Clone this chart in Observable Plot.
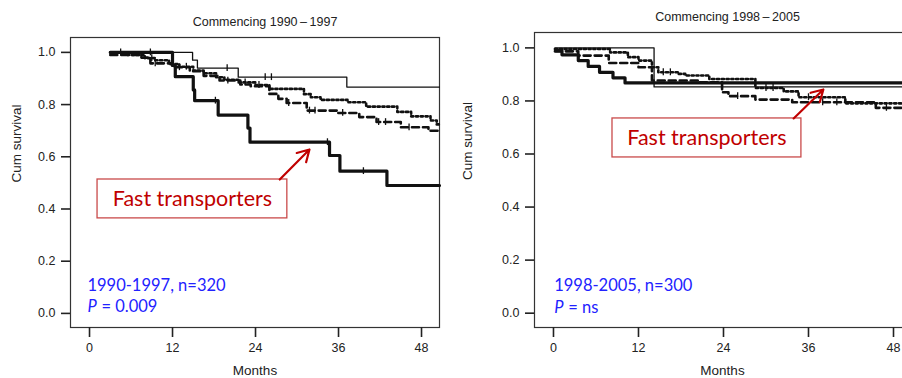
<!DOCTYPE html>
<html>
<head>
<meta charset="utf-8">
<script src="https://cdn.jsdelivr.net/npm/d3@7"></script>
<script src="https://cdn.jsdelivr.net/npm/@observablehq/plot@0.6"></script>
<style>
  html, body { margin: 0; padding: 0; background: white; }
  #wrap { position: relative; width: 902px; height: 378px; overflow: hidden; background: white; }
  #wrap svg { position: absolute; top: 0; }
</style>
</head>
<body>
<div id="wrap"></div>
<script>
// ---------- data ----------
const xTicks = [0, 12, 24, 36, 48];
const yTicks = [0, 0.2, 0.4, 0.6, 0.8, 1.0];
const xLabel = "Months";
const yLabel = "Cum survival";

// Panel A: Commencing 1990-1997
const titleA = "Commencing 1990\u2009\u2013\u20091997";
const thinA_t = [3.0, 14.9, 15.6, 21.5, 37.2, 50.6];
const thinA_v = [1.0, 0.97, 0.94, 0.905, 0.867, 0.867];
const thickA_t = [3.0, 12.0, 12.4, 15.0, 15.2, 18.6, 22.9, 23.2, 34.7, 36.2, 43.0, 50.6];
const thickA_v = [1.0, 0.95, 0.907, 0.856, 0.815, 0.76, 0.71, 0.656, 0.605, 0.545, 0.49, 0.49];
const dotA_t = [3.0, 5.5, 8.0, 9.5, 11.5, 13.0, 15.0, 16.5, 18.3, 19.5, 21.5, 24.0, 26.0, 31.0, 32.0, 33.4, 37.3, 40.0, 44.5, 46.5, 49.3, 50.2, 50.6];
const dotA_v = [1.0, 0.99, 0.978, 0.97, 0.955, 0.945, 0.93, 0.92, 0.905, 0.895, 0.885, 0.875, 0.86, 0.84, 0.828, 0.818, 0.809, 0.792, 0.772, 0.755, 0.739, 0.724, 0.724];
const dashA_t = [3.0, 7.5, 8.8, 12.0, 14.5, 16.5, 18.8, 21.8, 23.3, 26.0, 27.3, 28.5, 31.4, 35.8, 39.0, 41.5, 45.0, 49.0, 50.6];
const dashA_v = [0.99, 0.98, 0.958, 0.943, 0.928, 0.91, 0.892, 0.877, 0.87, 0.841, 0.822, 0.806, 0.777, 0.768, 0.752, 0.733, 0.713, 0.70, 0.70];
const censThinA = [19.9, 25.4, 26.3];
const censThickA = [8.8, 18.2, 34.4, 39.6];
const censDotA = [4.5, 9.0, 14.0, 22.5, 24.5];
const censDashA = [9.5, 13.0, 20.0, 28.8, 31.8, 32.6, 36.6, 41.8, 42.8, 46.2];
const noteA1 = "1990-1997, n=320";
const noteA2 = "= 0.009";

// Panel B: Commencing 1998-2005
const titleB = "Commencing 1998\u2009\u2013\u20092005";
const thinB_t = [0.2, 14.2, 50.4];
const thinB_v = [1.0, 0.853, 0.853];
const thickB_t = [0.3, 1.2, 3.5, 4.9, 6.5, 8.4, 10.1, 50.4];
const thickB_v = [0.99, 0.974, 0.952, 0.93, 0.908, 0.887, 0.868, 0.868];
const dotB_t = [0.2, 8.0, 10.5, 12.0, 13.9, 14.8, 17.6, 18.6, 22.0, 28.5, 32.5, 34.6, 41.2, 50.4];
const dotB_v = [0.996, 0.983, 0.965, 0.952, 0.927, 0.908, 0.902, 0.896, 0.883, 0.849, 0.836, 0.814, 0.791, 0.791];
const dashB_t = [0.2, 3.5, 7.8, 12.0, 13.9, 20.5, 23.8, 24.7, 28.5, 33.7, 45.5, 50.4];
const dashB_v = [0.987, 0.971, 0.943, 0.927, 0.877, 0.87, 0.833, 0.818, 0.805, 0.795, 0.774, 0.774];
const censDotB = [15.5, 16.5, 30.0, 31.0, 36.0];
const censDashB = [26.0, 38.0, 40.0, 47.0];
const noteB1 = "1998-2005, n=300";
const noteB2 = "= ns";

const boxLabel = "Fast transporters";

// ---------- helpers ----------
const series = (t, v) => t.map((x, i) => ({t: x, v: v[i]}));
function valueAt(t, v, c) {
  let k = 0;
  for (let i = 0; i < t.length; i++) if (t[i] <= c) k = i;
  return v[k];
}
const cens = (t, v, cs) => cs.map(c => ({t: c, v: valueAt(t, v, c)}));

const INK = "#111";
function curveMarks(t, v, cs, style) {
  const marks = [Plot.line(series(t, v), {x: "t", y: "v", curve: "step-after", stroke: INK, ...style})];
  if (cs && cs.length) {
    marks.push(Plot.ruleX(cens(t, v, cs), {x: "t", y1: d => d.v - 0.013, y2: d => d.v + 0.013, stroke: INK, strokeWidth: 1.3}));
  }
  return marks;
}

function panel(cfg) {
  return Plot.plot({
    width: cfg.width, height: 378,
    marginLeft: cfg.ml, marginRight: cfg.mr, marginTop: cfg.mt, marginBottom: 51,
    style: {fontFamily: "'Liberation Sans', Arial, sans-serif", fontSize: "12.5px", color: "#222", background: "transparent", overflow: "visible"},
    x: {domain: cfg.xd},
    y: {domain: cfg.yd},
    marks: [
      Plot.frame({stroke: "#333", strokeWidth: 1.2}),
      Plot.axisX({ticks: xTicks, tickSize: 10, tickPadding: 6, strokeWidth: 1.6, label: null, fontSize: 12.5}),
      Plot.axisY({ticks: yTicks, tickFormat: d3.format(".1f"), tickSize: 9, tickPadding: 6, strokeWidth: 1.6, label: null, fontSize: 12.5}),
      Plot.text([xLabel], {frameAnchor: "bottom", dy: 43, lineAnchor: "middle", fontSize: 13.5, fill: "#222"}),
      Plot.text([yLabel], {frameAnchor: "left", dx: -cfg.ml + 16, rotate: -90, lineAnchor: "middle", fontSize: 13.5, fill: "#222"}),
      Plot.text([cfg.title], {frameAnchor: "top", dy: cfg.titleDy, dx: cfg.titleDx, lineAnchor: "middle", fontSize: 12.5, fill: "#222"}),
      ...curveMarks(cfg.thin_t, cfg.thin_v, cfg.censThin, {strokeWidth: 1.3}),
      ...curveMarks(cfg.dot_t, cfg.dot_v, cfg.censDot, {strokeWidth: 2.6, strokeDasharray: "2.2,2.6"}),
      ...curveMarks(cfg.dash_t, cfg.dash_v, cfg.censDash, {strokeWidth: 2.6, strokeDasharray: "7,4"}),
      ...curveMarks(cfg.thick_t, cfg.thick_v, cfg.censThick, {strokeWidth: 3.2}),
      Plot.rect([cfg.box], {x1: "x1", x2: "x2", y1: "y1", y2: "y2", fill: "white", stroke: "#c94a4a", strokeWidth: 1.3}),
      Plot.text([cfg.box], {x: d => (d.x1 + d.x2) / 2, y: d => (d.y1 + d.y2) / 2, text: () => boxLabel, fontFamily: "Lato, 'Open Sans', sans-serif", fontSize: 21.5, fill: "#c00000"}),
      Plot.arrow([cfg.arrow], {x1: "x1", y1: "y1", x2: "x2", y2: "y2", stroke: "#c00000", strokeWidth: 2.2, headLength: 9}),
      Plot.text([cfg.note1], {x: cfg.noteX, y: cfg.noteY1, textAnchor: "start", fontFamily: "Lato, 'Open Sans', sans-serif", fontSize: 16.5, fill: "#2222ff"}),
      Plot.text(["P"], {x: cfg.noteX, y: cfg.noteY2, textAnchor: "start", fontFamily: "Lato, 'Open Sans', sans-serif", fontStyle: "italic", fontSize: 16.5, fill: "#2222ff"}),
      Plot.text([cfg.note2], {x: cfg.noteX, y: cfg.noteY2, dx: 14, textAnchor: "start", fontFamily: "Lato, 'Open Sans', sans-serif", fontSize: 16.5, fill: "#2222ff"})
    ]
  });
}

const svgA = panel({
  width: 451, ml: 70, mr: 12, mt: 37,
  xd: [-2.75, 50.6], yd: [-0.054, 1.057],
  title: titleA, titleDy: -16, titleDx: 10,
  thin_t: thinA_t, thin_v: thinA_v, censThin: censThinA,
  thick_t: thickA_t, thick_v: thickA_v, censThick: censThickA,
  dot_t: dotA_t, dot_v: dotA_v, censDot: censDotA,
  dash_t: dashA_t, dash_v: dashA_v, censDash: censDashA,
  box: {x1: 1.16, x2: 28.6, y1: 0.364, y2: 0.513},
  arrow: {x1: 27.5, y1: 0.513, x2: 31.8, y2: 0.628},
  note1: noteA1, note2: noteA2, noteX: -0.3, noteY1: 0.105, noteY2: 0.024
});
svgA.style.left = "0px";

const svgB = panel({
  width: 470, ml: 83, mr: 11, mt: 32,
  xd: [-2.68, 50.4], yd: [-0.054, 1.058],
  title: titleB, titleDy: -16, titleDx: 5,
  thin_t: thinB_t, thin_v: thinB_v, censThin: [],
  thick_t: thickB_t, thick_v: thickB_v, censThick: [],
  dot_t: dotB_t, dot_v: dotB_v, censDot: censDotB,
  dash_t: dashB_t, dash_v: dashB_v, censDash: censDashB,
  box: {x1: 8.33, x2: 35.0, y1: 0.587, y2: 0.734},
  arrow: {x1: 33.9, y1: 0.734, x2: 38.1, y2: 0.843},
  note1: noteB1, note2: noteB2, noteX: 0.1, noteY1: 0.105, noteY2: 0.022
});
svgB.style.left = "451px";

document.getElementById("wrap").append(svgA, svgB);
</script>
</body>
</html>
